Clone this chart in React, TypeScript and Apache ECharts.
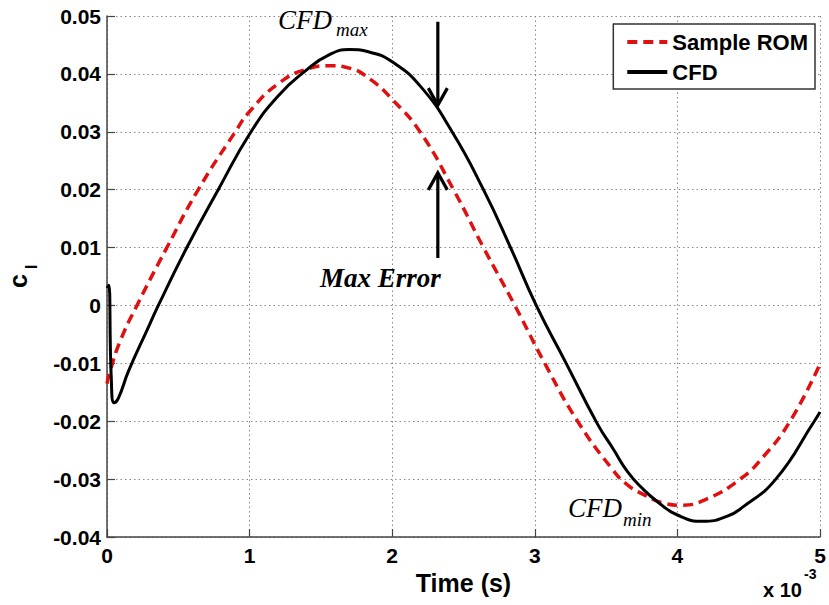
import React, { useEffect, useRef } from 'react';
import * as echarts from 'echarts';

// Time in units of 1e-3 s
const romTime = [0, 0.02, 0.09, 0.21, 0.42, 0.64, 0.9, 1.0, 1.2, 1.4, 1.57, 1.7, 1.85, 2.0, 2.195, 2.43, 2.64, 2.86, 3.07, 3.3, 3.55, 3.65, 3.75, 3.9, 4.03, 4.2, 4.44, 4.6, 4.79, 5.0];
const romCl = [-0.0135, -0.0115, -0.0063, 0, 0.01, 0.02, 0.03, 0.0335, 0.0383, 0.0408, 0.0414, 0.041, 0.039, 0.0356, 0.03, 0.02, 0.01, 0, -0.01, -0.02, -0.0285, -0.031, -0.0325, -0.0341, -0.0345, -0.0335, -0.03, -0.0262, -0.02, -0.0101];

const cfdTime = [0, 0.012, 0.03, 0.05, 0.08, 0.15, 0.28, 0.36, 0.56, 0.78, 1.01, 1.2, 1.4, 1.55, 1.7, 1.85, 2.0, 2.2, 2.42, 2.64, 2.83, 3.01, 3.22, 3.44, 3.55, 3.65, 3.75, 3.86, 4.0, 4.18, 4.35, 4.46, 4.69, 4.96, 5.0];
const cfdCl = [0.003, 0.0035, -0.0125, -0.0168, -0.016, -0.0114, -0.0043, 0, 0.01, 0.02, 0.03, 0.0362, 0.0407, 0.0432, 0.0442, 0.0437, 0.0421, 0.0378, 0.03, 0.02, 0.01, 0, -0.01, -0.0205, -0.0248, -0.0287, -0.0315, -0.0339, -0.0362, -0.0373, -0.0364, -0.0348, -0.03, -0.02, -0.0184];

const seriesNames = ['Sample ROM', 'CFD'];
const xRange = [0, 5];
const yRange = [-0.04, 0.05];

const SANS = '"Liberation Sans", Arial, sans-serif';
const SERIF = '"Liberation Serif", "Times New Roman", serif';

export default function App() {
  const ref = useRef<HTMLDivElement>(null);

  useEffect(() => {
    const chart = echarts.init(ref.current!, null, { renderer: 'svg' });
    const romData = romTime.map((t, i) => [t, romCl[i]]);
    const cfdData = cfdTime.map((t, i) => [t, cfdCl[i]]);

    chart.setOption({
      animation: false,
      backgroundColor: '#fff',
      textStyle: { fontFamily: SANS },
      grid: { left: 107, right: 9, top: 16, bottom: 68 },
      legend: {
        data: seriesNames,
        orient: 'vertical',
        right: 14,
        top: 24,
        padding: [6, 7, 5, 12],
        itemGap: 6,
        itemWidth: 40,
        itemHeight: 14,
        backgroundColor: '#fff',
        borderColor: '#333',
        borderWidth: 1.5,
        borderRadius: 0,
        itemStyle: { opacity: 0 },
        lineStyle: { width: 4 },
        textStyle: { fontFamily: SANS, fontWeight: 'bold', fontSize: 22, color: '#000', lineHeight: 24 },
      },
      xAxis: {
        type: 'value',
        min: xRange[0],
        max: xRange[1],
        interval: 1,
        name: 'Time (s)',
        nameLocation: 'middle',
        nameGap: 29,
        nameTextStyle: { fontFamily: SANS, fontWeight: 'bold', fontSize: 25, color: '#000' },
        axisLine: { show: true, onZero: false, lineStyle: { color: '#444', width: 1.5 } },
        axisTick: { show: true, inside: true, length: 8, lineStyle: { color: '#444', width: 1.2 } },
        axisLabel: { color: '#000', fontWeight: 'bold', fontSize: 21, margin: 8, fontFamily: SANS },
        splitLine: { show: true, lineStyle: { color: '#888', width: 1, type: [1.5, 3] } },
      },
      yAxis: {
        type: 'value',
        min: yRange[0],
        max: yRange[1],
        interval: 0.01,
        axisLine: { show: true, onZero: false, lineStyle: { color: '#444', width: 1.5 } },
        axisTick: { show: true, inside: true, length: 8, lineStyle: { color: '#444', width: 1.2 } },
        axisLabel: {
          color: '#000', fontWeight: 'bold', fontSize: 21, margin: 6, fontFamily: SANS,
          formatter: (v: number) => (Math.abs(v) < 1e-9 ? '0' : v.toFixed(2)),
        },
        splitLine: { show: true, lineStyle: { color: '#888', width: 1, type: [1.5, 3] } },
      },
      series: [
        {
          name: seriesNames[0],
          type: 'line',
          data: romData,
          symbol: 'none',
          smooth: 0.5,
          lineStyle: { color: '#e01010', width: 3.5, type: [10, 6] },
          itemStyle: { color: '#e01010' },
        },
        {
          name: seriesNames[1],
          type: 'line',
          data: cfdData,
          symbol: 'none',
          smooth: 0.5,
          lineStyle: { color: '#000', width: 3 },
          itemStyle: { color: '#000' },
        },
      ],
    });

    const px = (t: number, v: number) => chart.convertToPixel({ gridIndex: 0 }, [t, v]) as number[];
    const aTop = px(2.32, 0.049);
    const aTip = px(2.32, 0.0346);
    const bTip = px(2.32, 0.0229);
    const bBot = px(2.32, 0.0082);
    const arm = { dx: 9.5, dy: 17 };
    const arrowStyle = { stroke: '#000', lineWidth: 3.2, fill: 'none' };

    chart.setOption({
      graphic: [
        { type: 'line', shape: { x1: aTop[0], y1: aTop[1], x2: aTip[0], y2: aTip[1] - 1 }, style: arrowStyle, z: 100 },
        { type: 'polyline', shape: { points: [[aTip[0] - arm.dx, aTip[1] - arm.dy], [aTip[0], aTip[1]], [aTip[0] + arm.dx, aTip[1] - arm.dy]] }, style: arrowStyle, z: 100 },
        { type: 'line', shape: { x1: bBot[0], y1: bBot[1], x2: bTip[0], y2: bTip[1] + 1 }, style: arrowStyle, z: 100 },
        { type: 'polyline', shape: { points: [[bTip[0] - arm.dx, bTip[1] + arm.dy], [bTip[0], bTip[1]], [bTip[0] + arm.dx, bTip[1] + arm.dy]] }, style: arrowStyle, z: 100 },
        { type: 'text', x: 278, y: 20, z: 100, style: { text: 'CFD', fill: '#000', fontFamily: SERIF, fontStyle: 'italic', fontSize: 27, align: 'left', verticalAlign: 'middle' } },
        { type: 'text', x: 336, y: 29, z: 100, style: { text: 'max', fill: '#000', fontFamily: SERIF, fontStyle: 'italic', fontSize: 19, align: 'left', verticalAlign: 'middle' } },
        { type: 'text', x: 320, y: 278, z: 100, style: { text: 'Max Error', fill: '#000', fontFamily: SERIF, fontStyle: 'italic', fontWeight: 'bold', fontSize: 27, align: 'left', verticalAlign: 'middle' } },
        { type: 'text', x: 568, y: 508, z: 100, style: { text: 'CFD', fill: '#000', fontFamily: SERIF, fontStyle: 'italic', fontSize: 27, align: 'left', verticalAlign: 'middle' } },
        { type: 'text', x: 623, y: 519, z: 100, style: { text: 'min', fill: '#000', fontFamily: SERIF, fontStyle: 'italic', fontSize: 19, align: 'left', verticalAlign: 'middle' } },
        { type: 'text', x: 18, y: 281, rotation: Math.PI / 2, z: 100, style: { text: 'c', fill: '#000', fontFamily: SANS, fontWeight: 'bold', fontSize: 25, align: 'center', verticalAlign: 'middle' } },
        { type: 'text', x: 31, y: 267, rotation: Math.PI / 2, z: 100, style: { text: 'l', fill: '#000', fontFamily: SANS, fontWeight: 'bold', fontSize: 17, align: 'center', verticalAlign: 'middle' } },
        { type: 'text', x: 763, y: 590, z: 100, style: { text: 'x 10', fill: '#000', fontFamily: SANS, fontWeight: 'bold', fontSize: 20, align: 'left', verticalAlign: 'middle' } },
        { type: 'text', x: 804, y: 574, z: 100, style: { text: '-3', fill: '#000', fontFamily: SANS, fontWeight: 'bold', fontSize: 14, align: 'left', verticalAlign: 'middle' } },
      ],
    });

    return () => chart.dispose();
  }, []);

  return (
    <div
      ref={ref}
      style={{ position: 'fixed', left: 0, top: 0, width: 829, height: 605, background: '#fff' }}
    />
  );
}
